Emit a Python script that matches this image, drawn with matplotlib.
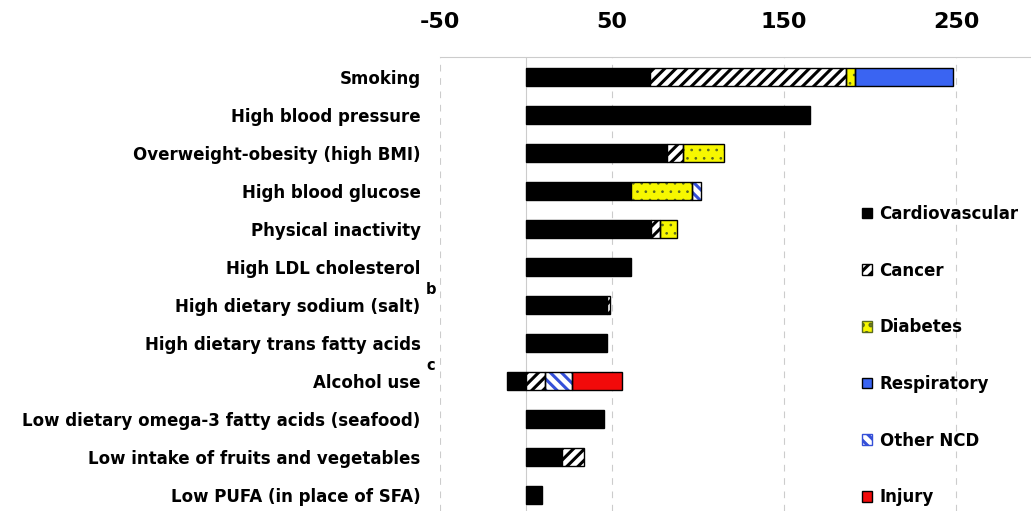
import matplotlib.pyplot as plt
import matplotlib.patches as mpatches
import numpy as np

plt.rcParams['font.family'] = ['DejaVu Sans']
plt.rcParams['hatch.linewidth'] = 2.2

risks = ["Smoking", "High blood pressure", "Overweight-obesity (high BMI)",
         "High blood glucose", "Physical inactivity", "High LDL cholesterol",
         "High dietary sodium (salt)", "High dietary trans fatty acids",
         "Alcohol use", "Low dietary omega-3 fatty acids (seafood)",
         "Low intake of fruits and vegetables", "Low PUFA (in place of SFA)"]

cardiovascular = np.array([72, 165, 82, 61, 72.5, 61, 47, 47, -11, 45.5, 21, 9.5])
cancer = np.array([114, 0, 9, 0, 5.5, 0, 2, 0, 11, 0, 13, 0])
diabetes = np.array([5, 0, 24, 35.5, 10, 0, 0, 0, 0, 0, 0, 0])
respiratory = np.array([57, 0, 0, 0, 0, 0, 0, 0, 0, 0, 0, 0])
other_ncd = np.array([0, 0, 0, 5.5, 0, 0, 0, 0, 16, 0, 0, 0])
injury = np.array([0, 0, 0, 0, 0, 0, 0, 0, 29, 0, 0, 0])

xticks = [-50, 50, 150, 250]
notes = {"b": 6, "c": 8}

series = [
    ("Cardiovascular", cardiovascular, dict(facecolor="black")),
    ("Cancer", cancer, dict(facecolor="white", hatch="///")),
    ("Diabetes", diabetes, dict(facecolor="#f7f700", hatch="..", hatch_edge="#5a6a20", hlw=0.7)),
    ("Respiratory", respiratory, dict(facecolor="#3a64f2")),
    ("Other NCD", other_ncd, dict(facecolor="white", hatch="\\\\\\", hatch_edge="#3550d8")),
    ("Injury", injury, dict(facecolor="#f20a0a")),
]

fig = plt.figure(figsize=(10.31, 5.11), dpi=100)
ax = fig.add_axes([440 / 1031, 0, 1 - 440 / 1031, 1 - 57 / 511])

y = np.arange(len(risks))
h = 0.47
pos = np.zeros(len(risks))
handles = []
for name, vals, st in series:
    left = np.where(vals >= 0, pos, 0)
    m = vals != 0
    fc = st["facecolor"]
    hatch = st.get("hatch")
    he = st.get("hatch_edge", "black")
    hlw = st.get("hlw", 2.2)
    if hatch:
        with plt.rc_context({"hatch.linewidth": hlw}):
            bars = ax.barh(y[m], vals[m], left=left[m], height=h, facecolor=fc,
                           edgecolor=he, hatch=hatch, linewidth=0, zorder=3)
            for b in bars:
                if hasattr(b, "set_hatch_linewidth"):
                    b.set_hatch_linewidth(hlw)
            hp = mpatches.Patch(facecolor=fc, edgecolor=he, hatch=hatch, linewidth=1, label=name)
            if hasattr(hp, "set_hatch_linewidth"):
                hp.set_hatch_linewidth(hlw)
        ax.barh(y[m], vals[m], left=left[m], height=h, fill=False,
                edgecolor="black", linewidth=1, zorder=4)
    else:
        ax.barh(y[m], vals[m], left=left[m], height=h, facecolor=fc,
                edgecolor="black", linewidth=1, zorder=3)
        hp = mpatches.Patch(facecolor=fc, edgecolor="black", linewidth=1, label=name)
    pos += np.maximum(vals, 0)
    handles.append(hp)

ax.set_xlim(-50, (1031 - 526) / 1.72)
ax.set_ylim(11.42, -0.526)
ax.set_yticks(y)
ax.set_yticklabels(risks, fontsize=12, fontweight="bold")
ax.set_xticks(xticks)
ax.set_xticklabels([str(t) for t in xticks], fontsize=16, fontweight="bold")
ax.xaxis.tick_top()
ax.tick_params(axis="x", length=0, pad=18)
ax.tick_params(axis="y", length=0, pad=14)
ax.grid(axis="x", color="#cccccc", linestyle=(0, (6, 6)), linewidth=0.8, zorder=0)
ax.axvline(0, color="#cccccc", linewidth=0.8, zorder=1)
for s in ["left", "right", "bottom"]:
    ax.spines[s].set_visible(False)
ax.spines["top"].set_color("#cccccc")

for lab, row in notes.items():
    ax.text(-0.015, row - 0.42, lab, transform=ax.get_yaxis_transform(),
            fontsize=10.5, fontweight="bold", ha="center", va="center")

leg = fig.legend(handles=handles, loc="upper left", bbox_to_anchor=(862 / 1031, 1 - 205 / 511),
                 frameon=False, fontsize=12, handlelength=0.6, handleheight=0.6,
                 handletextpad=0.45, labelspacing=2.32, borderaxespad=0, borderpad=0)
for t in leg.get_texts():
    t.set_fontweight("bold")

fig.savefig("out.png", dpi=100)
